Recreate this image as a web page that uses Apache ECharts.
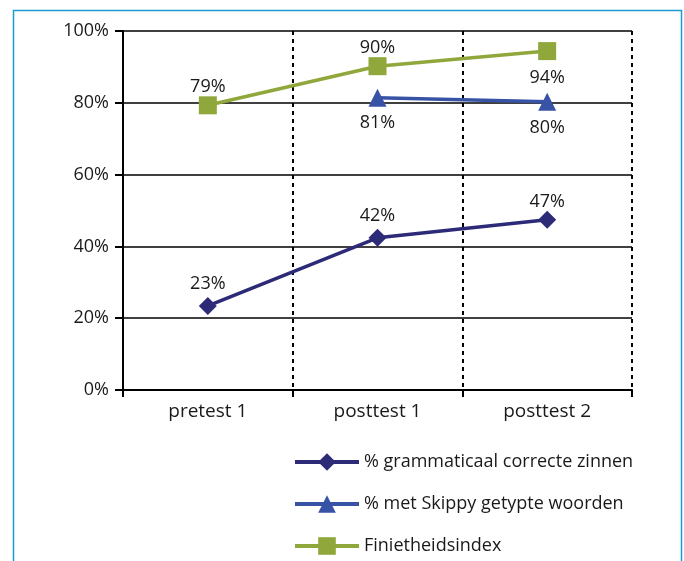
<!DOCTYPE html>
<html><head><meta charset="utf-8">
<script src="https://cdn.jsdelivr.net/npm/echarts@6/dist/echarts.min.js"></script>
<style>html,body{margin:0;padding:0;background:#fff}#c{width:684px;height:561px}</style>
</head><body><div id="c"></div>
<script>
const categories = ['pretest 1', 'posttest 1', 'posttest 2'];
const grammatical = [23.4, 42.4, 47.4];
const skippy = [null, 81.4, 80.3];
const finiteness = [79.3, 90.2, 94.4];
const yTicks = [0, 20, 40, 60, 80, 100];
const seriesNames = ['% grammaticaal correcte zinnen', '% met Skippy getypte woorden', 'Finietheidsindex'];

const font = '"Open Sans", "Noto Sans", sans-serif';
const txt = '#1a1a1a';
const chart = echarts.init(document.getElementById('c'), null, {renderer: 'canvas'});
const lbl = (pos, d) => ({show: true, position: pos, distance: d, fontFamily: font, fontSize: 18, color: txt,
  formatter: p => Math.round(p.value) + '%'});
// label placement per point (position, distance)
const place = (vals, spec) => vals.map((v, i) => v == null ? v : {value: v, label: {position: spec[i][0], distance: spec[i][1]}});
chart.setOption({
  animation: false,
  graphic: [{type: 'rect', shape: {x: 13.5, y: 10.5, width: 668, height: 560}, style: {fill: 'none', stroke: '#1a9ad0', lineWidth: 1.5}, z: 0}],
  grid: {left: 123, right: 52, top: 31, bottom: 171},
  xAxis: {
    type: 'category', data: categories, boundaryGap: true,
    axisLine: {show: true, lineStyle: {color: '#000', width: 2}},
    axisTick: {show: true, length: 7, lineStyle: {color: '#000', width: 2}},
    axisLabel: {fontFamily: font, fontSize: 19, color: txt, margin: 12},
    splitLine: {show: true, lineStyle: {color: '#000', type: [4, 4], width: 2}}
  },
  yAxis: {
    type: 'value', min: yTicks[0], max: yTicks[yTicks.length - 1], interval: 20,
    axisLine: {show: true, lineStyle: {color: '#000', width: 2}},
    axisTick: {show: true, length: 8, lineStyle: {color: '#000', width: 2}},
    axisLabel: {fontFamily: font, fontSize: 18, color: txt, margin: 14, formatter: '{value}%'},
    splitLine: {show: true, lineStyle: {color: '#000', width: 1.5}}
  },
  legend: {
    orient: 'vertical', left: 293, top: 453, padding: 0, itemWidth: 64, itemHeight: 22, itemGap: 24,
    textStyle: {fontFamily: font, fontSize: 18, color: txt},
    lineStyle: {width: 4},
    data: seriesNames
  },
  series: [
    {name: seriesNames[0], type: 'line', symbol: 'diamond', symbolSize: 18,
      data: place(grammatical, [['top', 4], ['top', 4], ['top', 0]]),
      itemStyle: {color: '#2d2a77'}, lineStyle: {width: 3.5, color: '#2d2a77'}, label: lbl('top', 4), z: 3},
    {name: seriesNames[1], type: 'line', symbol: 'triangle', symbolSize: 18,
      data: place(skippy, [null, ['bottom', 7], ['bottom', 8]]),
      itemStyle: {color: '#3853a6'}, lineStyle: {width: 3.5, color: '#3853a6'}, label: lbl('bottom', 7), z: 4},
    {name: seriesNames[2], type: 'line', symbol: 'rect', symbolSize: 18,
      data: place(finiteness, [['top', 0], ['top', 0], ['bottom', 9]]),
      itemStyle: {color: '#8fa73b'}, lineStyle: {width: 3.5, color: '#8fa73b'},
      label: lbl('top', 3), z: 5}
  ]
});
</script></body></html>
